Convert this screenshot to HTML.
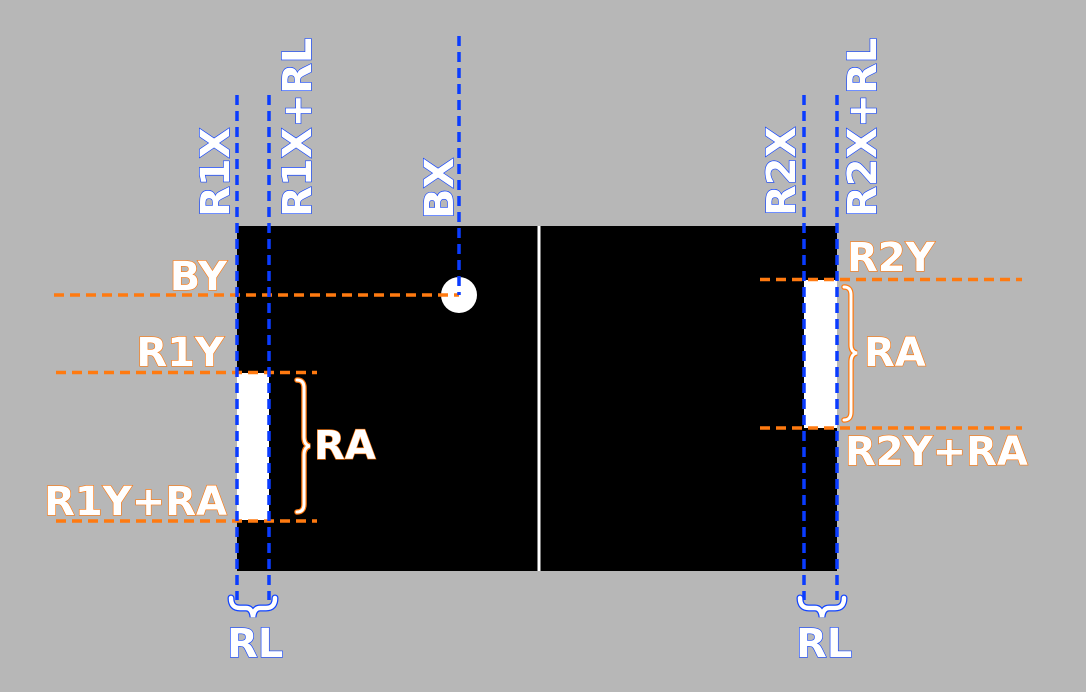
<!DOCTYPE html>
<html><head><meta charset="utf-8"><style>
html,body{margin:0;padding:0;background:#b7b7b7;}
svg{display:block}
text{font-family:"DejaVu Sans","Liberation Sans",sans-serif;font-weight:bold;font-size:40px;fill:#fff;stroke-width:1.3px;paint-order:stroke}
.b{stroke:#1144ff}
.o{stroke:#ff7a10}
.bl{stroke:#0a3cff;stroke-width:3.5;stroke-dasharray:10 6;fill:none}
.ol{stroke:#ff7a10;stroke-width:3.5;stroke-dasharray:10 6;fill:none}
</style></head><body>
<svg width="1086" height="692" viewBox="0 0 1086 692">
<rect x="0" y="0" width="1086" height="692" fill="#b7b7b7"/>
<rect x="237" y="226" width="600" height="345" fill="#000"/>
<rect x="537.5" y="226" width="3" height="345" fill="#fff"/>
<rect x="237" y="373" width="32" height="147" fill="#fff"/>
<rect x="804" y="280" width="33" height="148" fill="#fff"/>
<circle cx="459" cy="295" r="18" fill="#fff"/>

<g>
<line class="ol" x1="54" y1="295" x2="459" y2="295"/>
<line class="ol" x1="56" y1="372.5" x2="317" y2="372.5"/>
<line class="ol" x1="56" y1="521" x2="317" y2="521"/>
<line class="ol" x1="760" y1="279.5" x2="1022" y2="279.5"/>
<line class="ol" x1="760" y1="428" x2="1022" y2="428"/>
</g>
<g>
<line class="bl" x1="237" y1="95" x2="237" y2="600"/>
<line class="bl" x1="269" y1="95" x2="269" y2="600"/>
<line class="bl" x1="459" y1="36" x2="459" y2="295"/>
<line class="bl" x1="804" y1="95" x2="804" y2="600"/>
<line class="bl" x1="837" y1="95" x2="837" y2="600"/>
</g>

<g fill="none" stroke-linecap="round">
<path d="M297 380 Q304 380 304 388 L304 437 Q304 445 310 446 Q304 447 304 455 L304 504 Q304 512 297 512" stroke="#ff7a10" stroke-width="5.5"/>
<path d="M297 380 Q304 380 304 388 L304 437 Q304 445 310 446 Q304 447 304 455 L304 504 Q304 512 297 512" stroke="#fff" stroke-width="3"/>
<path d="M844 287 Q851 287 851 295 L851 345 Q851 352 857 353 Q851 354 851 362 L851 412 Q851 420 844 420" stroke="#ff7a10" stroke-width="5.5"/>
<path d="M844 287 Q851 287 851 295 L851 345 Q851 352 857 353 Q851 354 851 362 L851 412 Q851 420 844 420" stroke="#fff" stroke-width="3"/>
<path d="M231 598 Q231 608 240 608 L246 608 Q252 608 253 617 Q254 608 260 608 L266 608 Q275 608 275 598" stroke="#1144ff" stroke-width="7"/>
<path d="M231 598 Q231 608 240 608 L246 608 Q252 608 253 617 Q254 608 260 608 L266 608 Q275 608 275 598" stroke="#fff" stroke-width="4.5"/>
<path d="M800 598 Q800 608 809 608 L815 608 Q821 608 822 617 Q823 608 829 608 L835 608 Q844 608 844 598" stroke="#1144ff" stroke-width="7"/>
<path d="M800 598 Q800 608 809 608 L815 608 Q821 608 822 617 Q823 608 829 608 L835 608 Q844 608 844 598" stroke="#fff" stroke-width="4.5"/>
</g>

<g>
<text class="b" transform="translate(229,217) rotate(-90)">R1X</text>
<text class="b" transform="translate(311,217) rotate(-90)">R1X+RL</text>
<text class="b" transform="translate(453,219) rotate(-90)">BX</text>
<text class="b" transform="translate(795,216) rotate(-90)">R2X</text>
<text class="b" transform="translate(876,217) rotate(-90)">R2X+RL</text>
<text class="b" x="227" y="657">RL</text>
<text class="b" x="796" y="657">RL</text>
</g>
<g>
<text class="o" x="227" y="290" text-anchor="end">BY</text>
<text class="o" x="224" y="366" text-anchor="end">R1Y</text>
<text class="o" x="227" y="515" text-anchor="end">R1Y+RA</text>
<text class="o" x="314" y="459">RA</text>
<text class="o" x="847" y="271">R2Y</text>
<text class="o" x="864" y="366">RA</text>
<text class="o" x="845" y="465">R2Y+RA</text>
</g>
</svg>
</body></html>
